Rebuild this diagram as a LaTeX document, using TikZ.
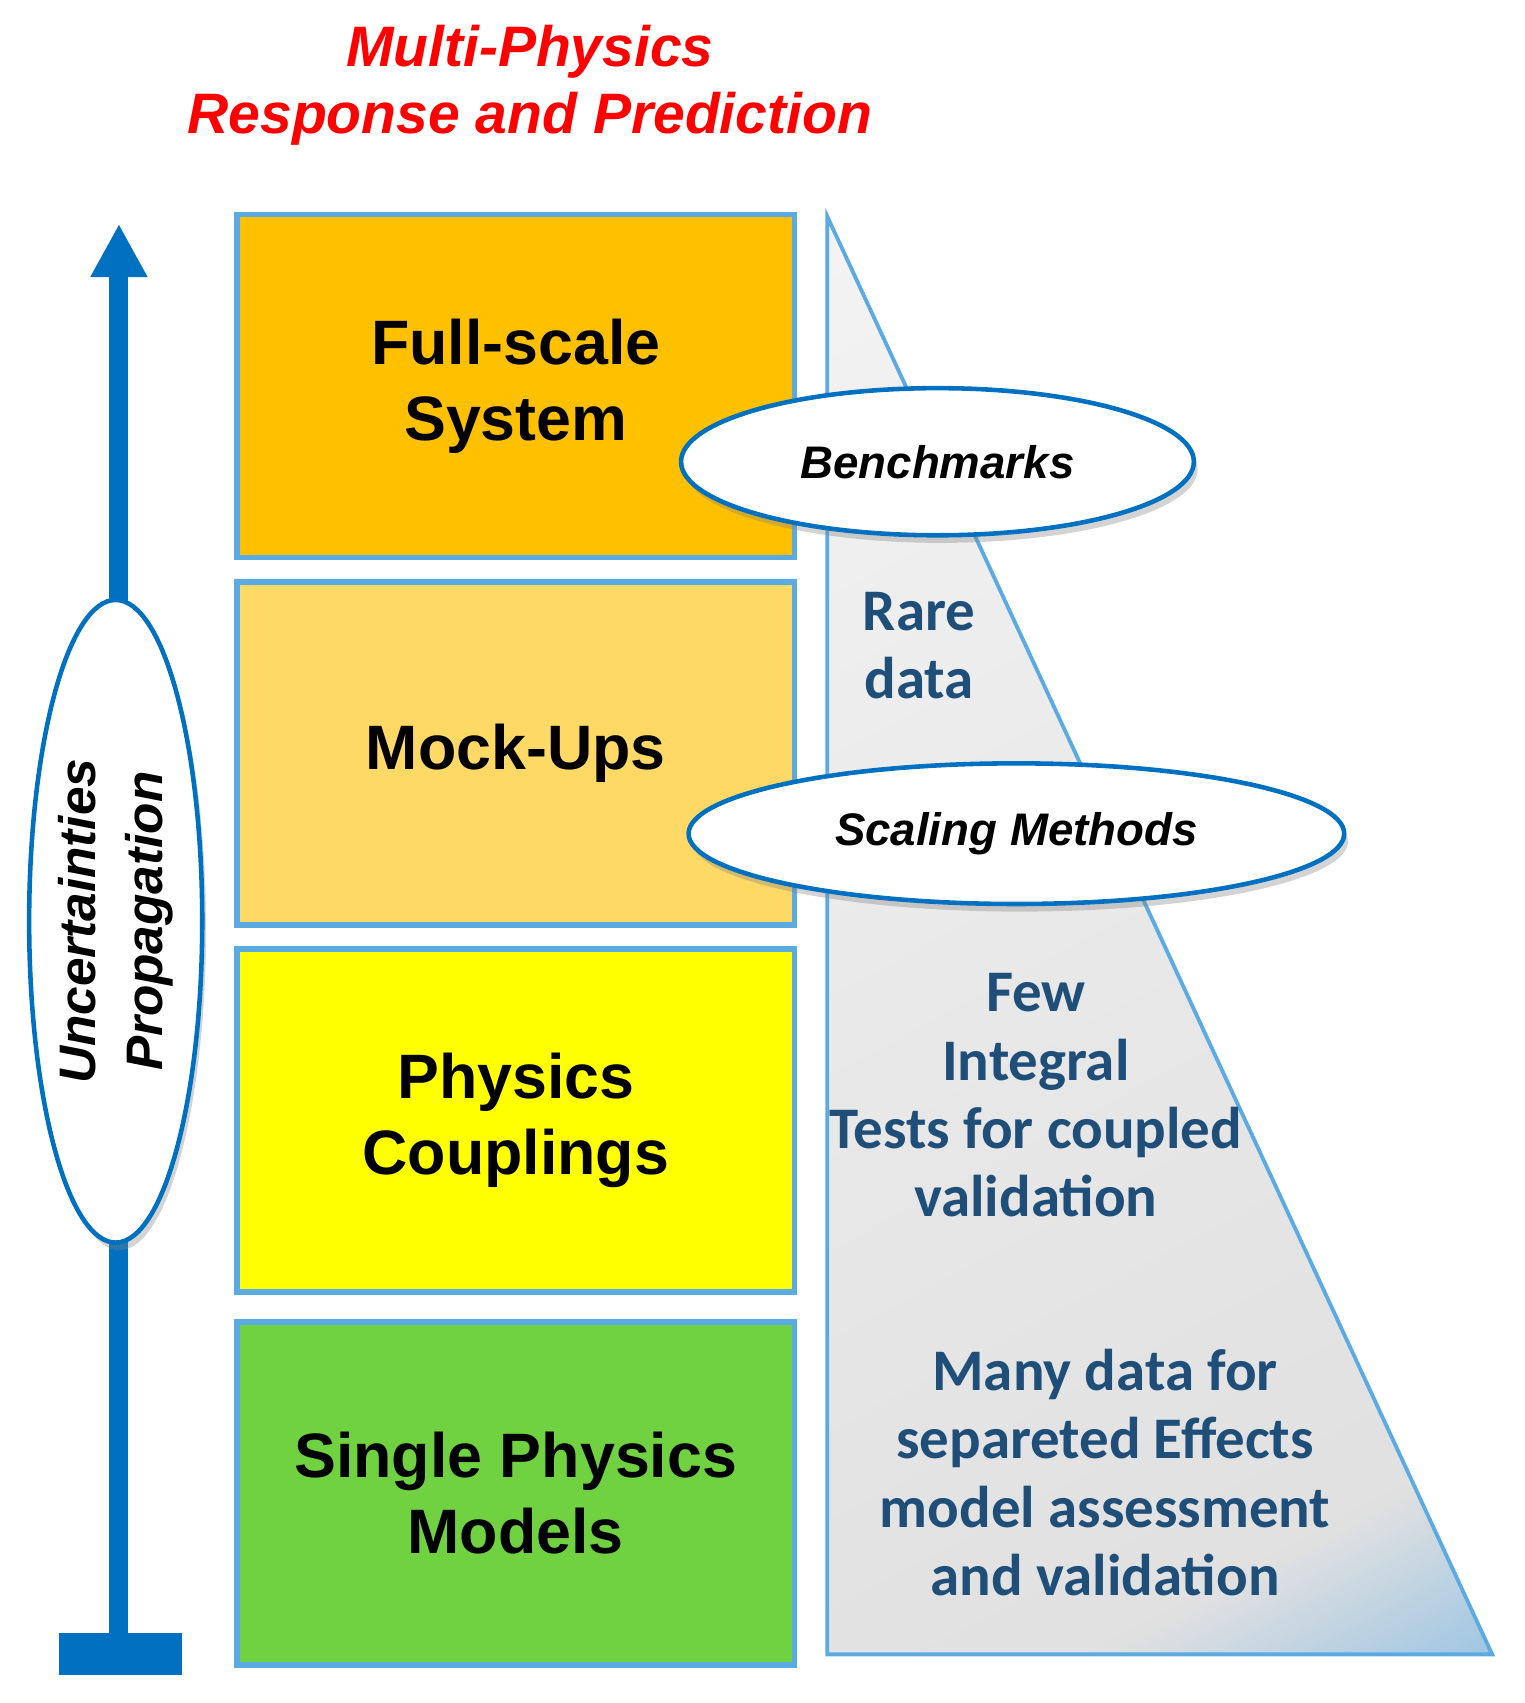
\documentclass[tikz,border=0pt]{standalone}
\usepackage{fontspec}
\setmainfont{Liberation Sans}
\newfontfamily\calib{Carlito}
\usetikzlibrary{shapes.geometric, arrows.meta, positioning, shadows}
\definecolor{edgeblue}{RGB}{91, 170, 225}
\definecolor{arrowblue}{RGB}{0, 112, 192}
\definecolor{textblue}{RGB}{31, 78, 121}
\definecolor{fullorange}{RGB}{255, 192, 0}
\definecolor{mockorange}{RGB}{255, 217, 102}
\definecolor{couplyellow}{RGB}{255, 255, 0}
\definecolor{singlegreen}{RGB}{112, 210, 64}
\pgfdeclarehorizontalshading{datashade}{100bp}{color(0bp)=(gray!5); color(50bp)=(gray!18); color(76bp)=(gray!24); color(86bp)=(arrowblue!45); color(100bp)=(arrowblue)}

\begin{document}
\begin{tikzpicture}[
        x=0.01cm, y=-0.01cm,
        level/.style={rectangle, draw=edgeblue, line width=1.5pt, minimum width=5.15cm, minimum height=3.17cm, text centered, align=center, font=\fontsize{16.5}{20}\selectfont\bfseries},
        oval/.style={ellipse, draw=arrowblue, line width=1.2pt, fill=white, drop shadow={opacity=0.35, shadow xshift=1pt, shadow yshift=-2pt}, font=\fontsize{12}{15}\selectfont\bfseries\itshape},
        info/.style={align=center, text=textblue, font=\calib\fontsize{15.5}{18}\selectfont\bfseries},
        arrow/.style={line width=5pt, color=arrowblue, -{Triangle[length=14pt, width=14pt]}}
    ]
        \useasboundingbox (0,0) rectangle (1410,1575);

        % Title
        \node[text=red, align=center, font=\fontsize{15}{17.6}\selectfont\bfseries\itshape] (title) at (490,79) {Multi-Physics\\Response and Prediction};

        % Data triangle
        \begin{scope}
            \clip (765,200) -- (1380,1530) -- (765,1530) -- cycle;
            \shade[shading=datashade, shading angle=-62] (765,200) rectangle (1380,1530);
        \end{scope}
        \draw[edgeblue, line width=1pt] (765,200) -- (1380,1530) -- (765,1530) -- cycle;

        % Levels
        \node[level, fill=fullorange] (full) at (477,357) {Full-scale\\System};
        \node[level, fill=mockorange] (mock) at (477,697) {Mock-Ups};
        \node[level, fill=couplyellow] (coupl) at (477,1036) {Physics\\Couplings};
        \node[level, fill=singlegreen] (single) at (477,1381) {Single Physics\\Models};

        % Data texts
        \node[info] (rare) at (850,597) {Rare\\data};
        \node[info] (few) at (958,1013) {Few\\Integral\\Tests for coupled\\validation};
        \node[info] (many) at (1022,1362) {Many data for\\separeted Effects\\model assessment\\and validation};

        % Ovals
        \node[oval, minimum width=4.74cm, minimum height=1.36cm] (bench) at (867,427) {Benchmarks};
        \node[oval, minimum width=6.06cm, minimum height=1.3cm] (scaling) at (940,771) {Scaling Methods};

        % Uncertainties arrow
        \coordinate (base) at (110,1530);
        \coordinate (top) at (110,207);
        \draw[arrowblue, line width=11pt] (55,1530) -- (168,1530);
        \draw[arrow] (base) -- (top);
        \node[oval, inner sep=0pt, minimum width=5.94cm, minimum height=1.6cm, rotate=90, font=\fontsize{13.5}{17.5}\selectfont\bfseries\itshape, align=center] (unc) at (107,852) {Uncertainties\\Propagation};
    \end{tikzpicture}
\end{document}
